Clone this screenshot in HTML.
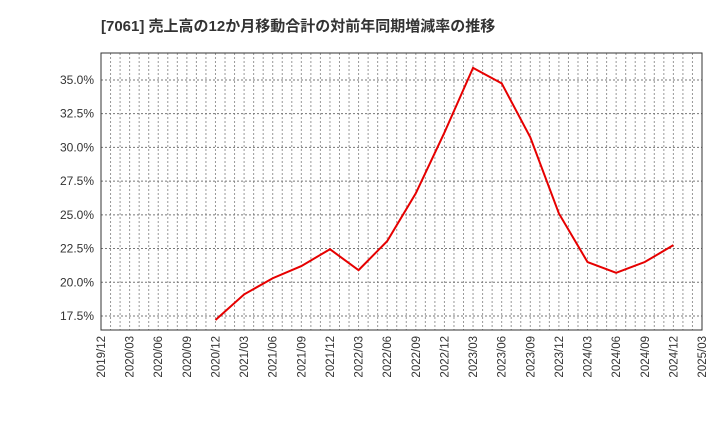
<!DOCTYPE html>
<html><head><meta charset="utf-8"><style>
body{margin:0;background:#fff;width:720px;height:440px;overflow:hidden}
text{font-family:"Liberation Sans","Noto Sans CJK JP",sans-serif}
</style></head><body>
<svg id="c" width="720" height="440"></svg>
<script>
const xLabels=["2019/12","2020/03","2020/06","2020/09","2020/12","2021/03","2021/06","2021/09","2021/12","2022/03","2022/06","2022/09","2022/12","2023/03","2023/06","2023/09","2023/12","2024/03","2024/06","2024/09","2024/12","2025/03"];
const yTicks=[17.5,20.0,22.5,25.0,27.5,30.0,32.5,35.0];
const seriesIdx=[4,5,6,7,8,9,10,11,12,13,14,15,16,17,18,19,20];
const seriesVal=[17.2,19.1,20.3,21.2,22.45,20.9,23.05,26.6,31.1,35.9,34.75,30.75,25.1,21.5,20.7,21.5,22.75];
const L=101,R=702,T=53,B=330,yMin=16.46,yMax=37.0;
const sx=i=>L+(R-L)*i/(xLabels.length-1);
const sy=v=>B-(v-yMin)/(yMax-yMin)*(B-T);
const svg=document.getElementById('c');const NS='http://www.w3.org/2000/svg';
function mk(t,a,p){const e=document.createElementNS(NS,t);for(const k in a)e.setAttribute(k,a[k]);(p||svg).appendChild(e);return e;}
const title=mk('text',{x:101,y:31,'font-size':15,'font-weight':'bold',fill:'#333'});


title.textContent='[7061]  売上高の12か月移動合計の対前年同期増減率の推移';
const grid=mk('g',{});


for(let m=1;m<(xLabels.length-1)*3;m++){const x=L+(R-L)*m/((xLabels.length-1)*3);
 mk('line',{x1:x,x2:x,y1:T,y2:B,stroke:'#999','stroke-dasharray':'2,2','stroke-width':1},grid);}
yTicks.forEach(v=>{mk('line',{x1:L,x2:R,y1:sy(v),y2:sy(v),stroke:'#777','stroke-dasharray':'2,2','stroke-width':1},grid);
 const t=mk('text',{x:L-7,y:sy(v)+4,'font-size':12,fill:'#333','text-anchor':'end'});
 
 
 t.textContent=v.toFixed(1)+'%';});
xLabels.forEach((s,i)=>{const x=sx(i);const t=mk('text',{transform:`translate(${x+4},${B+6}) rotate(-90)`,'font-size':11.5,fill:'#333','text-anchor':'end'});
 
 
 t.textContent=s;});
const fr=mk('rect',{x:L,y:T,width:R-L,height:B-T,fill:'none',stroke:'#333','stroke-width':1});


const pts=seriesIdx.map((i,k)=>sx(i)+','+sy(seriesVal[k])).join(' ');
const ln=mk('polyline',{points:pts,fill:'none',stroke:'#e60000','stroke-width':2});


</script></body></html>
